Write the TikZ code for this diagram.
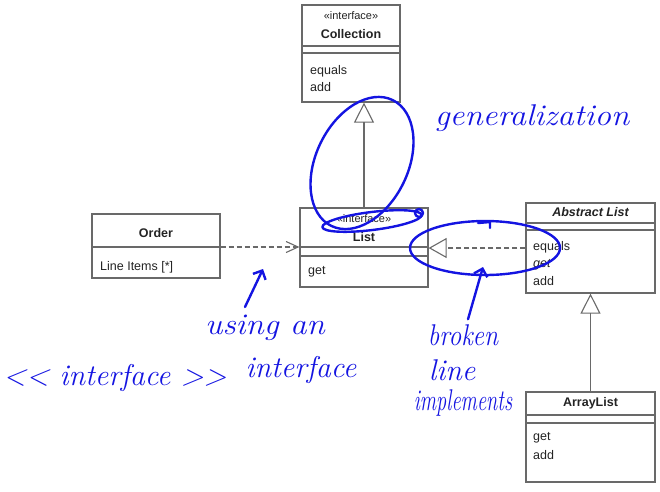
\documentclass[tikz,border=0pt]{standalone}
\usepackage{fontspec}
\newfontfamily\umlfont{Liberation Sans}
\usetikzlibrary{arrows.meta}
\definecolor{umlline}{RGB}{105,105,105}
\definecolor{umltext}{RGB}{35,35,35}
\definecolor{pen}{RGB}{20,20,225}
\begin{document}
\begin{tikzpicture}
    [x=1pt,y=-1pt,
     box/.style={draw=umlline,line width=1.2pt,inner sep=0pt},
     sep/.style={draw=umlline,line width=1.2pt},
     title/.style={font=\umlfont\fontsize{12.5}{14}\selectfont\bfseries,text=umltext},
     stereo/.style={font=\umlfont\fontsize{11}{12}\selectfont,text=umltext},
     member/.style={font=\umlfont\fontsize{12.5}{14}\selectfont,text=umltext,anchor=west,inner sep=0pt},
     gen/.style={-{Triangle[open,length=20pt,width=20pt]},draw=umlline,line width=1.1pt},
     realize/.style={-{Triangle[open,length=18pt,width=20pt]},draw=umlline,line width=1.1pt,dash pattern=on 5pt off 3pt},
     depend/.style={-{Straight Barb[length=12pt,width=11pt]},draw=umlline,line width=1.1pt,dash pattern=on 5pt off 3pt},
     hand/.style={draw=pen,line width=2.4pt,line cap=round,line join=round},
     handarrow/.style={hand,-{Straight Barb[length=7pt,width=14pt]}},
     handtext/.style={font=\fontsize{30}{30}\selectfont\itshape,text=pen,inner sep=0pt}]
    \useasboundingbox (0,0) rectangle (660,491);
    % classes
    \node [box,minimum width=98pt,minimum height=97pt] (coll) at (351,53.5) {};
    \node [stereo] (collst) at (351,16) {«interface»};
    \node [title] (colltitle) at (351,34) {Collection};
    \node [member] (collm1) at (310,71) {equals};
    \node [member] (collm2) at (310,87) {add};
    \draw [sep] (coll.west |- 0,46) -- (coll.east |- 0,46);
    \draw [sep] (coll.west |- 0,53) -- (coll.east |- 0,53);

    \node [box,minimum width=128pt,minimum height=64pt] (order) at (156,246) {};
    \node [title] (ordertitle) at (156,233) {Order};
    \node [member] (orderm1) at (100,267) {Line Items [*]};
    \draw [sep] (order.west |- 0,247) -- (order.east |- 0,247);

    \node [box,minimum width=128pt,minimum height=79pt] (list) at (364,247.5) {};
    \node [stereo] (listst) at (364,219) {«interface»};
    \node [title] (listtitle) at (364,237) {List};
    \node [member] (listm1) at (308,272) {get};
    \draw [sep] (list.west |- 0,247) -- (list.east |- 0,247);
    \draw [sep] (list.west |- 0,256) -- (list.east |- 0,256);

    \node [box,minimum width=129pt,minimum height=90pt] (alist) at (590.5,248) {};
    \node [title] (alisttitle) at (590.5,212) {\itshape Abstract List};
    \node [member] (alistm1) at (533,247) {equals};
    \node [member] (alistm2) at (533,265) {\itshape get};
    \node [member] (alistm3) at (533,281) {add};
    \draw [sep] (alist.west |- 0,223) -- (alist.east |- 0,223);
    \draw [sep] (alist.west |- 0,230) -- (alist.east |- 0,230);

    \node [box,minimum width=129pt,minimum height=90pt] (arrlist) at (590.5,437) {};
    \node [title] (arrlisttitle) at (590.5,403) {ArrayList};
    \node [member] (arrlistm1) at (533,438) {get};
    \node [member] (arrlistm2) at (533,455) {add};
    \draw [sep] (arrlist.west |- 0,415) -- (arrlist.east |- 0,415);
    \draw [sep] (arrlist.west |- 0,423) -- (arrlist.east |- 0,423);

    % relations
    \draw [gen] (list.north) -- (list.north |- coll.south);
    \draw [gen] (arrlist.north) -- (alist.south);
    \draw [realize] (alist.west) -- (alist.west -| list.east);
    \draw [depend] (order.east |- 0,247) -- (list.west |- 0,247);

    % handwritten notes
    \draw [hand,rotate around={-26:(362,163)}] (362,163) ellipse [x radius=46, y radius=70];
    \draw [hand,rotate around={7:(372,221)}] (372,221) ellipse [x radius=50, y radius=9];
    \draw [hand] (419,213) circle [radius=4];
    \draw [hand] (485,248) ellipse [x radius=75, y radius=27];
    \draw [hand] (478,223) -- (490,222) -- (490,228);
    \node [handtext] (genlbl) at (532,118) {\scalebox{1.1}[1]{generalization}};
    \node [handtext] (usinglbl) at (265,328) {\scalebox{1.1}[1]{using an}};
    \node [handtext] (ifacelbl) at (301,370) {interface};
    \node [handtext] (brokenlbl) at (463,335) {\scalebox{0.85}[1]{broken}};
    \node [handtext] (linelbl) at (452,370) {line};
    \node [handtext] (implbl) at (463,403) {\scalebox{0.68}[1]{implements}};
    \node [handtext] (stereolbl) at (115,378) {{<}{<} interface {>}{>}};
    \coordinate (usetip) at (263,269);
    \coordinate (brokentip) at (483,267);
    \draw [handarrow] (usinglbl.north west) ++(40,-8) -- (usetip);
    \draw [handarrow] (brokenlbl.north) ++(5,-5) -- (brokentip);
\end{tikzpicture}
\end{document}
